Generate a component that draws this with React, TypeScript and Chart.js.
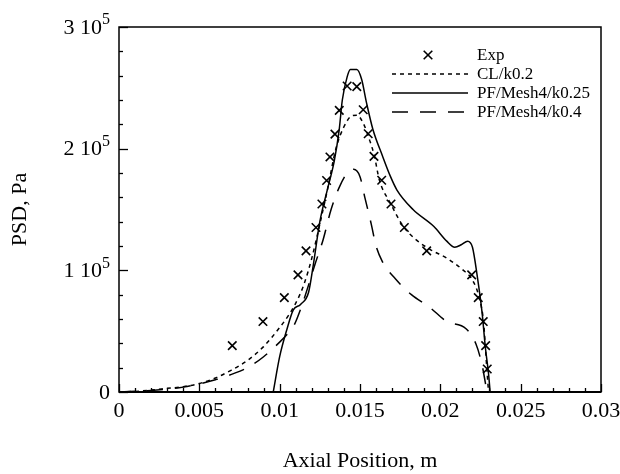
import React, { useEffect, useRef } from 'react';
import { Chart, registerables } from 'chart.js';

Chart.register(...registerables);

// ---------- data ----------
const seriesLabels = ['Exp', 'CL/k0.2', 'PF/Mesh4/k0.25', 'PF/Mesh4/k0.4'];

const expX = [0.00705, 0.00896, 0.01029, 0.01114, 0.01164, 0.01226, 0.01263, 0.01292, 0.01313, 0.01344, 0.01371, 0.0142, 0.0148, 0.0152, 0.01551, 0.01587, 0.01635, 0.01693, 0.01776, 0.01915, 0.02195, 0.02236, 0.02267, 0.02282, 0.02292];
const expY = [38100, 57900, 77600, 96300, 116000, 135200, 154500, 173800, 193200, 212000, 231500, 251500, 251000, 232000, 212300, 193700, 174000, 154500, 135200, 116000, 96300, 77600, 57900, 38100, 18900];

const clX = [0, 0.001, 0.002, 0.003, 0.004, 0.005, 0.006, 0.007, 0.008, 0.009, 0.01, 0.0105, 0.011, 0.0115, 0.012, 0.0125, 0.013, 0.0135, 0.014, 0.0145, 0.0148, 0.0152, 0.0156, 0.0159, 0.0162, 0.0169, 0.0177, 0.0185, 0.0194, 0.0204, 0.0214, 0.022, 0.0224, 0.0227, 0.0228, 0.0229, 0.023];
const clY = [0, 500, 1600, 3000, 4400, 7000, 11500, 18000, 26000, 37300, 53000, 62000, 73000, 88000, 110000, 138000, 168000, 200000, 218000, 227000, 227500, 221000, 207000, 193700, 174500, 155000, 136000, 125000, 116900, 110000, 100400, 92000, 78400, 56500, 37300, 18100, 0];

const k25X = [0.0096, 0.01, 0.01044, 0.01085, 0.0113, 0.0118, 0.0121, 0.0125, 0.013, 0.0134, 0.0137, 0.0139, 0.0142, 0.0144, 0.0148, 0.0151, 0.0154, 0.0158, 0.0164, 0.0169, 0.0173, 0.0183, 0.0196, 0.0204, 0.0209, 0.0213, 0.0217, 0.022, 0.0223, 0.0226, 0.0228, 0.023, 0.0231];
const k25Y = [0, 29000, 51000, 67500, 72000, 82000, 105000, 140000, 168000, 190000, 215000, 240000, 259000, 265000, 265000, 257000, 238000, 216000, 194000, 177000, 166000, 150000, 136000, 124000, 119000, 121000, 124000, 119000, 95000, 65000, 37000, 15000, 0];

const k40X = [0, 0.002, 0.004, 0.006, 0.007, 0.008, 0.009, 0.01, 0.0105, 0.0109, 0.0113, 0.0118, 0.0122, 0.0127, 0.0132, 0.0137, 0.0142, 0.0146, 0.015, 0.0153, 0.0157, 0.016, 0.0164, 0.0172, 0.0182, 0.0193, 0.0204, 0.0216, 0.0222, 0.0226, 0.0229];
const k40Y = [0, 1300, 4000, 10000, 14500, 20000, 29000, 41000, 48000, 55000, 68000, 88000, 105000, 125000, 150000, 168000, 180000, 183000, 177000, 160000, 138000, 120000, 107000, 93000, 80000, 70000, 58000, 52000, 40000, 22000, 0];

const xTickValues = [0, 0.005, 0.01, 0.015, 0.02, 0.025, 0.03];
const xTickLabels = ['0', '0.005', '0.01', '0.015', '0.02', '0.025', '0.03'];
const yTickValues = [0, 100000, 200000, 300000];
const yTickMain = ['0', '1 10', '2 10', '3 10'];
const yTickSup = ['', '5', '5', '5'];
const xMinorStep = 0.001;
const yMinorStep = 20000;

const FONT = '"Liberation Serif", "Times New Roman", serif';

const pts = (xs: number[], ys: number[]) => xs.map((x, i) => ({ x, y: ys[i] }));

const decorPlugin = {
  id: 'decor',
  afterDraw(chart: any) {
    const { ctx, chartArea: a, scales } = chart;
    const xs = scales.x;
    const ys = scales.y;
    ctx.save();
    ctx.strokeStyle = '#000';
    // frame
    ctx.lineWidth = 1.5;
    ctx.strokeRect(a.left, a.top, a.right - a.left, a.bottom - a.top);
    ctx.lineWidth = 2;
    ctx.beginPath();
    ctx.moveTo(a.left, a.bottom);
    ctx.lineTo(a.right, a.bottom);
    ctx.stroke();
    // x ticks (inward)
    ctx.lineWidth = 1.3;
    const xMin = xs.min, xMax = xs.max;
    const nX = Math.round((xMax - xMin) / xMinorStep);
    for (let i = 0; i <= nX; i++) {
      const v = xMin + i * xMinorStep;
      const px = Math.round(xs.getPixelForValue(v)) + 0.5;
      const len = i % 5 === 0 ? 8 : 4;
      ctx.beginPath();
      ctx.moveTo(px, a.bottom);
      ctx.lineTo(px, a.bottom - len);
      ctx.stroke();
    }
    // y ticks (inward)
    const nY = Math.round((ys.max - ys.min) / yMinorStep);
    for (let i = 0; i <= nY; i++) {
      const v = ys.min + i * yMinorStep;
      const py = Math.round(ys.getPixelForValue(v)) + 0.5;
      const len = i % 5 === 0 ? 9 : 4;
      ctx.beginPath();
      ctx.moveTo(a.left, py);
      ctx.lineTo(a.left + len, py);
      ctx.stroke();
    }
    // y tick labels with superscript
    ctx.fillStyle = '#000';
    ctx.textBaseline = 'middle';
    ctx.textAlign = 'right';
    const rightEdge = a.left - 9;
    yTickValues.forEach((v, i) => {
      const py = ys.getPixelForValue(v);
      let r = rightEdge;
      if (yTickSup[i]) {
        ctx.font = `16px ${FONT}`;
        ctx.fillText(yTickSup[i], r, py - 7);
        r -= ctx.measureText(yTickSup[i]).width;
      }
      ctx.font = `22px ${FONT}`;
      ctx.fillText(yTickMain[i], r, py + 1);
    });
    // legend
    const ds = chart.data.datasets;
    const rowY0 = a.top + 28;
    const rowGap = 19;
    const lineL = 392, lineR = 468, markX = 428, textX = 477;
    ctx.font = `17px ${FONT}`;
    ctx.textAlign = 'left';
    ds.forEach((d: any, i: number) => {
      const yy = rowY0 + i * rowGap;
      ctx.strokeStyle = '#000';
      if (d.showLine === false) {
        const r = 4.3;
        ctx.lineWidth = 1.6;
        ctx.setLineDash([]);
        ctx.beginPath();
        ctx.moveTo(markX - r, yy - r);
        ctx.lineTo(markX + r, yy + r);
        ctx.moveTo(markX + r, yy - r);
        ctx.lineTo(markX - r, yy + r);
        ctx.stroke();
      } else {
        ctx.lineWidth = d.borderWidth;
        ctx.setLineDash(d.borderDash || []);
        ctx.beginPath();
        ctx.moveTo(lineL, yy);
        ctx.lineTo(lineR, yy);
        ctx.stroke();
        ctx.setLineDash([]);
      }
      ctx.fillText(d.label, textX, yy + 1);
    });
    ctx.restore();
  },
};

export default function App() {
  const ref = useRef<HTMLCanvasElement | null>(null);
  useEffect(() => {
    if (!ref.current) return;
    const chart = new Chart(ref.current, {
      type: 'scatter',
      data: {
        datasets: [
          {
            label: seriesLabels[0],
            data: pts(expX, expY),
            showLine: false,
            pointStyle: 'crossRot',
            pointRadius: 6,
            pointBorderWidth: 1.6,
            borderColor: '#000',
            backgroundColor: '#000',
          },
          {
            label: seriesLabels[1],
            data: pts(clX, clY),
            showLine: true,
            borderColor: '#000',
            borderWidth: 1.5,
            borderDash: [4, 4],
            pointRadius: 0,
            cubicInterpolationMode: 'monotone',
          },
          {
            label: seriesLabels[2],
            data: pts(k25X, k25Y),
            showLine: true,
            borderColor: '#000',
            borderWidth: 1.5,
            pointRadius: 0,
            cubicInterpolationMode: 'monotone',
          },
          {
            label: seriesLabels[3],
            data: pts(k40X, k40Y),
            showLine: true,
            borderColor: '#000',
            borderWidth: 1.5,
            borderDash: [16, 12],
            pointRadius: 0,
            cubicInterpolationMode: 'monotone',
          },
        ],
      },
      options: {
        animation: false,
        responsive: false,
        maintainAspectRatio: false,
        devicePixelRatio: 1,
        layout: { padding: { top: 27, right: 19, left: 0, bottom: 0 } },
        plugins: { legend: { display: false }, tooltip: { enabled: false } },
        scales: {
          x: {
            type: 'linear',
            min: 0,
            max: 0.03,
            afterBuildTicks: (s: any) => {
              s.ticks = xTickValues.map((v) => ({ value: v }));
            },
            ticks: {
              autoSkip: false,
              maxRotation: 0,
              padding: 6,
              color: '#000',
              font: { family: FONT, size: 22 },
              callback: (v: any) => {
                const idx = xTickValues.findIndex((t) => Math.abs(t - Number(v)) < 1e-9);
                return idx >= 0 ? xTickLabels[idx] : '';
              },
            },
            grid: { display: false, drawTicks: false },
            border: { display: false },
            title: {
              display: true,
              text: 'Axial Position, m',
              color: '#000',
              padding: 0,
              font: { family: FONT, size: 22, lineHeight: 1.2 },
            },
            afterFit: (s: any) => {
              s.height = 82;
              s.paddingLeft = 0;
              s.paddingRight = 0;
            },
          },
          y: {
            type: 'linear',
            min: 0,
            max: 300000,
            ticks: { display: false },
            grid: { display: false, drawTicks: false },
            border: { display: false },
            title: {
              display: true,
              text: 'PSD, Pa',
              color: '#000',
              padding: { top: 7, bottom: 0 },
              font: { family: FONT, size: 22, lineHeight: 1.2 },
            },
            afterFit: (s: any) => {
              s.width = 119;
              s.paddingTop = 0;
              s.paddingBottom = 0;
            },
          },
        },
      },
      plugins: [decorPlugin],
    } as any);
    return () => chart.destroy();
  }, []);
  return (
    <div style={{ position: 'fixed', left: 0, top: 0, width: 620, height: 474, background: '#fff' }}>
      <canvas ref={ref} width={620} height={474} style={{ display: 'block', width: 620, height: 474 }} />
    </div>
  );
}
